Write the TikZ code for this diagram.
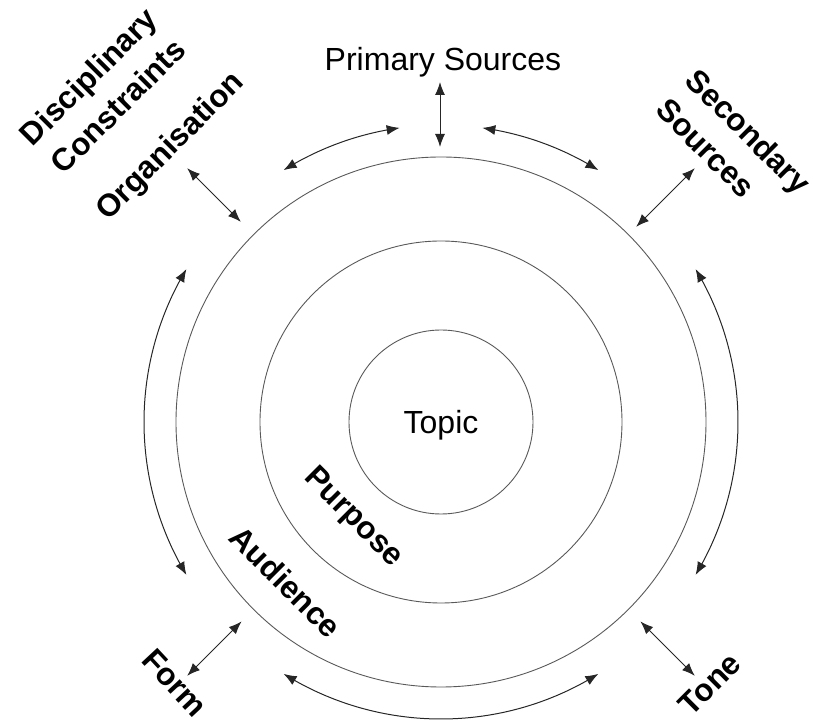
\documentclass[tikz,border=0pt]{standalone}
\usepackage{fontspec}
\setmainfont{Liberation Sans}
\usetikzlibrary{arrows.meta,bending}
\begin{document}
\begin{tikzpicture}[x=1pt,y=1pt,
  ring/.style={draw=black!65,line width=0.9pt},
  link/.style={draw=black!85,line width=1pt,{Latex[length=13pt,width=10pt]}-{Latex[length=13pt,width=10pt]}},
  plain/.style={font=\fontsize{32}{36}\selectfont,inner sep=0pt},
  bold/.style={font=\fontsize{31.5}{42}\selectfont\bfseries,inner sep=0pt}]
\useasboundingbox (-441,-300) rectangle (375,422);
% circles
\node[ring,circle,minimum size=530pt,inner sep=0pt] (outer) at (0,0) {};
\node[ring,circle,minimum size=362pt,inner sep=0pt] (middle) at (0,0) {};
\node[ring,circle,minimum size=184pt,inner sep=0pt] (inner) at (0,0) {};
% texts
\node[plain] (topic) at (0,-3) {Topic};
\node[plain] (primary) at (2,360) {Primary Sources};
\node[bold,rotate=45] (org) at (-270,275) {Organisation};
\node[bold,rotate=45,align=center] (disc) at (-338,331) {Disciplinary\\Constraints};
\node[bold,rotate=-45,align=left] (second) at (293,276) {Secondary\\Sources};
\node[bold,rotate=-47] (form) at (-266,-261) {Form};
\node[bold,rotate=45] (tone) at (269,-262) {Tone};
\node[bold,rotate=-45] (purpose) at (-88,-96) {Purpose};
\node[bold,rotate=-45] (audience) at (-155,-160) {Audience};
% radial arrow end points
\coordinate (p1) at (-1,275); \coordinate (p2) at (-1,340);
\coordinate (o1) at (135:283); \coordinate (o2) at (135:359);
\coordinate (s1) at (45:276); \coordinate (s2) at (45:359);
\coordinate (f1) at (225:282); \coordinate (f2) at (225:359);
\coordinate (t1) at (-45:282); \coordinate (t2) at (-45:359);
\draw[link] (p1) -- (p2);
\draw[link] (o1) -- (o2);
\draw[link] (s1) -- (s2);
\draw[link] (f1) -- (f2);
\draw[link] (t1) -- (t2);
% circular arrows
\draw[link] (122:297) arc[start angle=122,end angle=98,radius=297];
\draw[link] (82:297) arc[start angle=82,end angle=58,radius=297];
\draw[link] (31:297) arc[start angle=31,end angle=-31,radius=297];
\draw[link] (-58:297) arc[start angle=-58,end angle=-122,radius=297];
\draw[link] (149:297) arc[start angle=149,end angle=211,radius=297];
\end{tikzpicture}
\end{document}
